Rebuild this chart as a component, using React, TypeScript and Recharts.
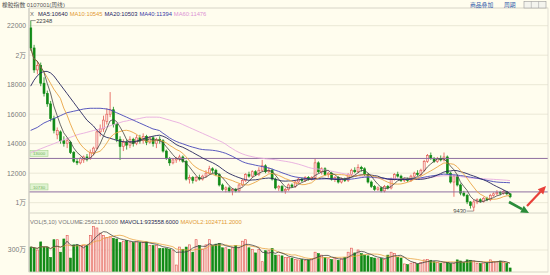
import React from "react";
import {
  Bar,
  CartesianGrid,
  ComposedChart,
  Line,
  ReferenceDot,
  ReferenceLine,
  XAxis,
  YAxis,
} from "recharts";

// weekly rubber index
const opens = [
  21850, 20490, 19000, 19300, 18100, 17400, 16700, 15700, 14600, 14800,
  14200, 14000, 14100, 13400, 12800, 12700, 12900, 13100, 13000, 13400,
  13700, 14800, 15000, 15500, 16000, 16300, 15300, 14300, 13800, 14100,
  13900, 14300, 14000, 14400, 14200, 14500, 14100, 14400, 14000, 14300,
  14200, 13500, 13000, 12700, 12900, 13000, 13100, 12800, 11600, 11700,
  11500, 11700, 11600, 11800, 12000, 12300, 12200, 11900, 11200, 10900,
  11000, 10800, 10900, 10800, 11200, 11500, 11900, 11800, 12100, 11900,
  12200, 12500, 12100, 12200, 11600, 11000, 11100, 10800, 10900, 11200,
  11100, 11400, 11600, 11500, 11700, 11600, 11700, 12700, 12100, 12300,
  11900, 12000, 11600, 11700, 11400, 11600, 11500, 11900, 12200, 12100,
  12400, 12300, 11900, 11400, 11100, 10900, 11000, 10800, 11100, 11000,
  11600, 11900, 11800, 11500, 11600, 11500, 11800, 12000, 11900, 12200,
  12800, 13200, 13000, 12800, 13000, 12900, 13100, 12000, 11400, 11800,
  11200, 10650, 10500, 10050, 9700, 10050, 10200, 10100, 10300, 10200,
  10500, 10600, 10700, 10650, 10750, 10600,
];
const closes = [
  20490, 19000, 19300, 18100, 17400, 16700, 15700, 14900, 14900, 14200,
  14000, 14200, 13400, 12800, 12700, 13000, 13100, 13000, 13400, 13700,
  14800, 15000, 15600, 16000, 16300, 15300, 14300, 13800, 14100, 13900,
  14300, 14000, 14400, 14200, 14500, 14100, 14400, 14000, 14300, 14200,
  13500, 13000, 12700, 12900, 13000, 13100, 12800, 11600, 11700, 11500,
  11700, 11600, 11800, 12000, 12300, 12200, 11900, 11200, 10900, 11000,
  10800, 10900, 10800, 11200, 11500, 11900, 11800, 12100, 11900, 12200,
  12500, 12100, 12200, 11600, 11000, 11100, 10800, 10900, 11200, 11100,
  11400, 11600, 11500, 11700, 11600, 11700, 12700, 12100, 12300, 11900,
  12000, 11600, 11700, 11400, 11600, 11500, 11900, 12200, 12100, 12400,
  12300, 11900, 11400, 11100, 10900, 11000, 10800, 11100, 11000, 11600,
  11900, 11800, 11500, 11600, 11500, 11800, 12000, 11900, 12200, 12800,
  13200, 13000, 12800, 13000, 12900, 13100, 12000, 11400, 11800, 11200,
  10650, 10500, 10050, 9800, 10050, 10200, 10100, 10300, 10200, 10500,
  10600, 10700, 10650, 10750, 10600, 10400,
];
const highs = [
  22348, 20700, 19600, 19500, 18500, 17600, 16900, 15900, 15100, 14900,
  14500, 14400, 14200, 13500, 13000, 13100, 13200, 13300, 13600, 13800,
  14900, 15300, 15900, 16400, 17500, 16500, 15400, 14500, 14300, 14300,
  14500, 14400, 14600, 14600, 14700, 14600, 14500, 14500, 14400, 14500,
  14300, 13600, 13100, 13000, 13100, 13250, 13200, 12900, 11900, 11800,
  11800, 11900, 11900, 12200, 12500, 12400, 12300, 12000, 11300, 11100,
  11100, 11000, 11000, 11300, 11600, 12000, 12100, 12200, 12200, 12400,
  12900, 12600, 12400, 12300, 11700, 11200, 11200, 11000, 11300, 11300,
  11500, 11700, 11700, 11800, 11800, 11800, 13000, 12800, 12400, 12400,
  12100, 12100, 11800, 11800, 11700, 11700, 12000, 12300, 12400, 12600,
  12500, 12400, 12000, 11500, 11200, 11100, 11100, 11200, 11200, 11700,
  12000, 12100, 11900, 11700, 11700, 11900, 12100, 12200, 12300, 12900,
  13300, 13400, 13100, 13100, 13200, 13400, 13200, 12100, 11900, 11900,
  11300, 10800, 10600, 10100, 10200, 10300, 10300, 10400, 10400, 10600,
  10700, 10850, 10800, 10850, 10800, 10650,
];
const lows = [
  20300, 18800, 18700, 17900, 17200, 16500, 15500, 14700, 14300, 14000,
  13800, 13700, 13300, 12700, 12550, 12600, 12700, 12800, 12900, 13200,
  13600, 14500, 14800, 15300, 15800, 15100, 14100, 12900, 13500, 13600,
  13700, 13800, 13900, 14000, 14000, 13900, 14000, 13800, 13700, 14000,
  13400, 12900, 12500, 12600, 12700, 12800, 12700, 11500, 11300, 11300,
  11400, 11500, 11500, 11700, 11900, 12000, 11800, 11100, 10800, 10700,
  10700, 10500, 10700, 10700, 11100, 11400, 11700, 11700, 11800, 11800,
  12100, 12000, 12000, 11500, 10900, 10800, 10700, 10600, 10800, 11000,
  11000, 11300, 11400, 11400, 11500, 11500, 11600, 12000, 11900, 11800,
  11700, 11500, 11400, 11300, 11300, 11400, 11400, 11800, 12000, 12000,
  12100, 11800, 11300, 11000, 10800, 10800, 10700, 10700, 10900, 10900,
  11500, 11700, 11400, 11400, 11400, 11400, 11700, 11800, 11800, 12100,
  12700, 12900, 12700, 12700, 12800, 12800, 11900, 11300, 10400, 11100,
  10500, 10400, 9900, 9600, 9430, 9900, 10000, 10000, 10100, 10100,
  10400, 10500, 10500, 10550, 10500, 10300,
];
// volume, in 万
const volumes = [
  340, 325, 300, 410, 340, 340, 200, 440, 440, 270,
  450, 500, 190, 370, 370, 360, 360, 360, 500, 620,
  600, 530, 500, 470, 480, 460, 450, 400, 420, 430,
  410, 400, 410, 400, 400, 410, 360, 360, 360, 320,
  320, 320, 310, 290, 95, 340, 310, 340, 370, 270,
  440, 360, 310, 370, 440, 360, 380, 390, 330, 330,
  310, 330, 360, 330, 420, 440, 330, 310, 260, 310,
  140, 290, 290, 320, 230, 230, 220, 200, 200, 190,
  170, 165, 170, 160, 165, 180, 270, 250, 230, 200,
  180, 170, 190, 160, 180, 200, 270, 325, 260, 300,
  250, 230, 220, 200, 190, 180, 185, 170, 230, 270,
  250, 200, 190, 110, 100, 120, 130, 110, 130, 165,
  170, 160, 140, 130, 120, 125, 130, 115, 120, 165,
  150, 130, 165, 160, 150, 120, 115, 120, 125, 165,
  145, 140, 150, 130, 120, 55,
];
// long averages before their window is filled (history off the left edge)
const ma20Lead = [
  17900, 18300, 18600, 18800, 18900, 18900, 18800, 18600, 18300, 18000,
  17700, 17400, 17100, 16800, 16500, 16200, 15900, 15600, 15400,
];
const ma40Lead = [
  14900, 15000, 15100, 15250, 15400, 15500, 15600, 15700, 15800, 15900,
  16000, 16100, 16150, 16200, 16250, 16300, 16350, 16380, 16400, 16400,
  16400, 16400, 16380, 16350, 16300, 16200, 16100, 16000, 15900, 15800,
  15700, 15600, 15500, 15400, 15300, 15200, 15100, 15000, 14950,
];
const ma60Lead = [
  13400, 13480, 13560, 13650, 13740, 13830, 13910, 14000, 14090, 14170,
  14260, 14340, 14430, 14510, 14600, 14660, 14710, 14770, 14830, 14890,
  14940, 15000, 15070, 15140, 15210, 15290, 15360, 15430, 15500, 15540,
  15590, 15630, 15670, 15710, 15760, 15800, 15800, 15800, 15800, 15790,
  15730, 15660, 15600, 15530, 15470, 15400, 15300, 15200, 15100, 15000,
  14900, 14800, 14700, 14600, 14500, 14400, 14300, 14200, 14100,
];

const priceTicks = [10000, 12000, 14000, 16000, 18000, 20000, 22000];
const priceTickText = ["1万", "12000", "14000", "16000", "18000", "2万", "22000"];
const volTicks = [300];
const volTickText = ["300万"];
const levels = [13000, 10730];
const blankWeeks = 11;

const maHeader = [
  ["MA5:10640", "#26264e"],
  ["MA10:10545", "#e29a34"],
  ["MA20:10503", "#1e1e66"],
  ["MA40:11394", "#3b3ba6"],
  ["MA60:11476", "#dc92d4"],
];
const volHeader = [
  ["VOL(5,10) VOLUME:256211.0000", "#777"],
  ["MAVOL1:933558.6000", "#26264e"],
  ["MAVOL2:1024711.2000", "#e29a34"],
];

const UP = "#e2544e";
const UP_FILL = "#fbe0dc";
const DOWN = "#118a16";
const BG = "#fffdee";
const FONT = "'Liberation Sans', 'Noto Sans CJK SC', sans-serif";

function rolling(values: number[], n: number, lead?: number[]) {
  return values.map((_, i) => {
    if (i < n - 1) {
      if (lead) return lead[i];
      const part = values.slice(0, i + 1);
      return part.reduce((a, b) => a + b, 0) / part.length;
    }
    let s = 0;
    for (let k = i - n + 1; k <= i; k++) s += values[k];
    return s / n;
  });
}

const ma5 = rolling(closes, 5);
const ma10 = rolling(closes, 10);
const ma20 = rolling(closes, 20, ma20Lead);
const ma40 = rolling(closes, 40, ma40Lead);
const ma60 = rolling(closes, 60, ma60Lead);
const mavol1 = rolling(volumes, 5);
const mavol2 = rolling(volumes, 10);

const rows = Array.from({ length: closes.length + blankWeeks }, (_, i) =>
  i < closes.length
    ? {
        i,
        open: opens[i],
        high: highs[i],
        low: lows[i],
        close: closes[i],
        vol: volumes[i],
        ma5: ma5[i],
        ma10: ma10[i],
        ma20: ma20[i],
        ma40: ma40[i],
        ma60: ma60[i],
        mavol1: mavol1[i],
        mavol2: mavol2[i],
      }
    : { i }
);

const peakIdx = highs.indexOf(Math.max(...highs));
const lowIdx = lows.indexOf(Math.min(...lows));

function Candle(props: any) {
  const { x, y, width, height, payload } = props;
  if (!payload || payload.high == null) return null;
  const { open, close, high, low } = payload;
  const top = Math.min(y, y + height);
  const h = Math.abs(height);
  const span = high - low || 1;
  const py = (v: number) => top + ((high - v) / span) * h;
  const up = close >= open;
  const cx = x + width / 2;
  const bTop = py(Math.max(open, close));
  const bBot = py(Math.min(open, close));
  const c = up ? UP : DOWN;
  return (
    <g>
      <line x1={cx} x2={cx} y1={top} y2={top + h} stroke={c} strokeWidth={0.8} />
      <rect
        x={x}
        y={bTop}
        width={width}
        height={Math.max(0.8, bBot - bTop)}
        fill={up ? UP_FILL : DOWN}
        stroke={c}
        strokeWidth={0.6}
      />
    </g>
  );
}

function VolBar(props: any) {
  const { x, y, width, height, payload } = props;
  if (!payload || payload.vol == null) return null;
  const up = payload.close >= payload.open;
  return (
    <rect
      x={x}
      y={y}
      width={width}
      height={height}
      fill={up ? UP_FILL : DOWN}
      stroke={up ? UP : DOWN}
      strokeWidth={0.6}
    />
  );
}

function LevelTag(props: any) {
  const vb = props.viewBox || {};
  const x = vb.x ?? 0;
  const y = vb.y ?? 0;
  return (
    <g>
      <rect x={x + 1} y={y - 8} width={18} height={6} fill="#e0f3d2" stroke="#a6d490" strokeWidth={0.6} />
      <text x={x + 10} y={y - 3.4} fontSize={4.4} textAnchor="middle" fill="#70b058" fontFamily={FONT}>
        {props.text}
      </text>
    </g>
  );
}

const tickStyle = { fontSize: 6.8, fill: "#7a7a7a", fontFamily: FONT };

function Arrow({ from, to, color, w }: { from: number[]; to: number[]; color: string; w: number }) {
  const dx = to[0] - from[0];
  const dy = to[1] - from[1];
  const len = Math.hypot(dx, dy);
  const ux = dx / len;
  const uy = dy / len;
  const hl = 8;
  const hw = 3.8;
  const bx = to[0] - ux * hl;
  const by = to[1] - uy * hl;
  return (
    <g>
      <line x1={from[0]} y1={from[1]} x2={bx} y2={by} stroke={color} strokeWidth={w} />
      <polygon
        points={`${to[0]},${to[1]} ${bx - uy * hw},${by + ux * hw} ${bx + uy * hw},${by - ux * hw}`}
        fill={color}
      />
    </g>
  );
}

export default function App() {
  return (
    <div
      style={{
        position: "absolute",
        left: 0,
        top: 0,
        width: 550,
        height: 275,
        background: BG,
        overflow: "hidden",
        fontFamily: FONT,
      }}
    >
      <div style={{ position: "absolute", left: 0, top: 0 }}>
        <ComposedChart width={550} height={213} data={rows} margin={{ top: 8, right: 2, bottom: 0, left: 0 }} barCategoryGap="24%">
          <CartesianGrid horizontal vertical={false} stroke="#ebe8d6" />
          <XAxis dataKey="i" hide />
          <YAxis
            width={29}
            domain={[9300, 23200]}
            allowDataOverflow
            ticks={priceTicks}
            interval={0}
            tickFormatter={(v) => priceTickText[priceTicks.indexOf(v)] ?? String(v)}
            tick={tickStyle}
            tickLine={false}
            tickSize={3}
            tickMargin={0}
            axisLine={{ stroke: "#b9b9b0" }}
          />
          {levels.map((v) => (
            <ReferenceLine key={v} y={v} stroke="#8e6f9f" strokeWidth={1} label={<LevelTag text={String(v)} />} />
          ))}
          <Bar dataKey={(d: any) => (d.high == null ? null : [d.low, d.high])} shape={(p: any) => <Candle {...p} />} isAnimationActive={false} />
          <Line dataKey="ma60" stroke="#e8acdf" strokeWidth={0.9} dot={false} isAnimationActive={false} />
          <Line dataKey="ma40" stroke="#4646b8" strokeWidth={0.9} dot={false} isAnimationActive={false} />
          <Line dataKey="ma20" stroke="#26265e" strokeWidth={0.9} dot={false} isAnimationActive={false} />
          <Line dataKey="ma10" stroke="#eaa544" strokeWidth={0.9} dot={false} isAnimationActive={false} />
          <Line dataKey="ma5" stroke="#444" strokeWidth={0.8} dot={false} isAnimationActive={false} />
          <ReferenceDot
            x={peakIdx}
            y={highs[peakIdx]}
            r={0}
            shape={(p: any) => (
              <g>
                <line x1={p.cx} y1={p.cy} x2={p.cx + 5} y2={p.cy} stroke="#555" strokeWidth={0.6} />
                <text x={p.cx + 5.5} y={p.cy + 2} fontSize={5.8} fill="#444" fontFamily={FONT}>
                  {highs[peakIdx]}
                </text>
              </g>
            )}
          />
          <ReferenceDot
            x={lowIdx}
            y={lows[lowIdx]}
            r={0}
            shape={(p: any) => (
              <g>
                <line x1={p.cx - 7} y1={p.cy} x2={p.cx} y2={p.cy} stroke="#555" strokeWidth={0.6} />
                <text x={p.cx - 7.5} y={p.cy + 2} fontSize={5.8} fill="#444" textAnchor="end" fontFamily={FONT}>
                  {lows[lowIdx]}
                </text>
              </g>
            )}
          />
        </ComposedChart>
      </div>
      <div style={{ position: "absolute", left: 0, top: 213 }}>
        <ComposedChart width={550} height={62} data={rows} margin={{ top: 0, right: 2, bottom: 3, left: 0 }} barCategoryGap="24%">
          <CartesianGrid horizontal vertical={false} stroke="#ebe8d6" />
          <XAxis dataKey="i" hide />
          <YAxis
            width={29}
            domain={[0, 804]}
            allowDataOverflow
            ticks={volTicks}
            interval={0}
            tickFormatter={(v) => volTickText[volTicks.indexOf(v)] ?? String(v)}
            tick={tickStyle}
            tickLine={false}
            tickSize={3}
            tickMargin={0}
            axisLine={{ stroke: "#b9b9b0" }}
          />
          <Bar dataKey="vol" shape={(p: any) => <VolBar {...p} />} isAnimationActive={false} />
          <Line dataKey="mavol2" stroke="#eaa544" strokeWidth={0.8} dot={false} isAnimationActive={false} />
          <Line dataKey="mavol1" stroke="#444" strokeWidth={0.8} dot={false} isAnimationActive={false} />
        </ComposedChart>
      </div>
      <svg width={550} height={275} style={{ position: "absolute", left: 0, top: 0, pointerEvents: "none" }}>
        <rect x={29} y={8} width={519} height={264} fill="none" stroke="#dcdad0" strokeWidth={0.8} />
        <line x1={29} y1={213} x2={548} y2={213} stroke="#dcdad0" strokeWidth={0.8} />
        <text x={2} y={6.5} fontSize={5.8} fill="#555" fontFamily={FONT}>
          橡胶指数 0107001(周线)
        </text>
        <text x={470} y={7} fontSize={5.8} fill="#2d56a8" fontFamily={FONT}>
          商品叠加
        </text>
        <text x={504} y={7} fontSize={5.8} fill="#2d56a8" fontFamily={FONT}>
          周期
        </text>
        <rect x={524} y={1.5} width={22} height={6.5} fill="#f4f4ee" stroke="#9a9a9a" strokeWidth={0.6} />
        <line x1={531.3} y1={1.5} x2={531.3} y2={8} stroke="#9a9a9a" strokeWidth={0.5} />
        <line x1={538.6} y1={1.5} x2={538.6} y2={8} stroke="#9a9a9a" strokeWidth={0.5} />
        <text x={30} y={15.5} fontSize={5.8} fill="#666" fontFamily={FONT}>
          X
        </text>
        <text x={38} y={15.5} fontSize={5.8} fontFamily={FONT}>
          {maHeader.map(([t, c], k) => (
            <tspan key={k} fill={c} dx={k ? 2 : 0}>
              {t}
            </tspan>
          ))}
        </text>
        <text x={30} y={224} fontSize={5.8} fontFamily={FONT}>
          {volHeader.map(([t, c], k) => (
            <tspan key={k} fill={c} dx={k ? 2 : 0}>
              {t}
            </tspan>
          ))}
        </text>
        <Arrow from={[509, 202]} to={[529, 213]} color="#2a8c3a" w={2.6} />
        <Arrow from={[527, 206]} to={[546, 186]} color="#e8403a" w={2.2} />
      </svg>
    </div>
  );
}
